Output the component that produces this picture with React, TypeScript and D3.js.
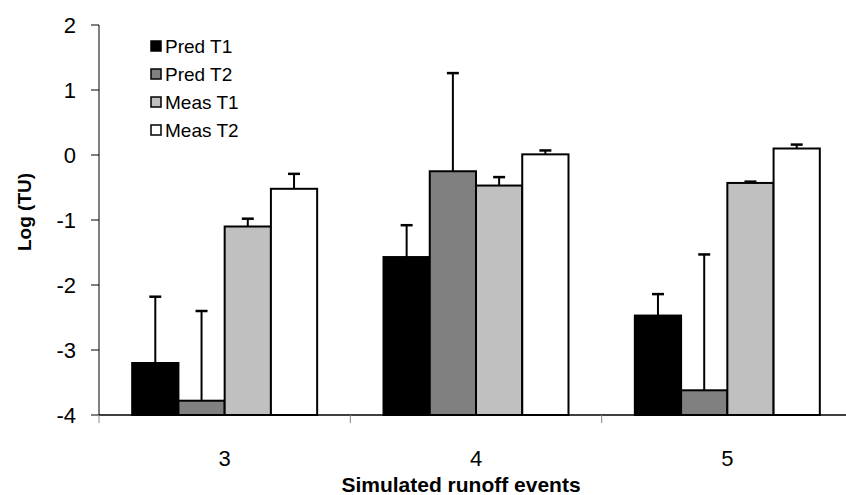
import * as d3 from 'd3'

const categories = ['3', '4', '5']
const seriesNames = ['Pred T1', 'Pred T2', 'Meas T1', 'Meas T2']
const seriesFill = ['#000000', '#808080', '#c0c0c0', '#ffffff']

// mean values per series, one entry per category
const predT1 = [-3.2, -1.57, -2.47]
const predT2 = [-3.78, -0.25, -3.62]
const measT1 = [-1.1, -0.47, -0.43]
const measT2 = [-0.52, 0.01, 0.1]

// top of the (upward only) error bar
const predT1Err = [-2.18, -1.08, -2.14]
const predT2Err = [-2.4, 1.26, -1.53]
const measT1Err = [-0.98, -0.34, -0.41]
const measT2Err = [-0.29, 0.07, 0.16]

const yTicks = [-4, -3, -2, -1, 0, 1, 2]

const values = [predT1, predT2, measT1, measT2]
const errTops = [predT1Err, predT2Err, measT1Err, measT2Err]

const W = 846
const H = 495
const FONT = '"Liberation Sans", Arial, sans-serif'

export default function App() {
  const y = d3.scaleLinear().domain([-4, 2]).range([415, 25])
  const x = d3.scaleBand<string>()
    .domain(categories)
    .range([99, 853])
    .paddingInner(0.264)
    .paddingOuter(0.132)
  const inner = d3.scaleBand<string>()
    .domain(seriesNames)
    .range([0, x.bandwidth()])

  const step = x.step()
  const boundaries = d3.range(categories.length + 1).map(i => 99 + i * step)

  return (
    <svg width={W} height={H} style={{ position: 'absolute', left: 0, top: 0 }} fontFamily={FONT}>
      <rect width={W} height={H} fill="#fff" />

      {/* bars */}
      {seriesNames.map((s, si) => (
        <g key={s}>
          {categories.map((c, ci) => {
            const bx = (x(c) ?? 0) + (inner(s) ?? 0)
            const v = values[si][ci]
            return (
              <rect key={c} x={bx} y={y(v)} width={inner.bandwidth()} height={y(-4) - y(v)}
                fill={seriesFill[si]} stroke="#000" strokeWidth={2} />
            )
          })}
        </g>
      ))}

      {/* error bars */}
      {seriesNames.map((s, si) => (
        <g key={s + '-err'} stroke="#000" strokeWidth={2}>
          {categories.map((c, ci) => {
            const cx = (x(c) ?? 0) + (inner(s) ?? 0) + inner.bandwidth() / 2
            const top = y(errTops[si][ci])
            return (
              <g key={c}>
                <line x1={cx} x2={cx} y1={y(values[si][ci])} y2={top} />
                <line x1={cx - 6} x2={cx + 6} y1={top} y2={top} strokeWidth={2.5} />
              </g>
            )
          })}
        </g>
      ))}

      {/* y axis */}
      <line x1={99} x2={99} y1={y(2)} y2={y(-4)} stroke="#000" strokeWidth={1} />
      {yTicks.map(t => (
        <g key={t}>
          <line x1={91} x2={99} y1={y(t)} y2={y(t)} stroke="#000" />
          <text x={76} y={y(t)} dy="0.36em" textAnchor="end" fontSize={22}>{t}</text>
        </g>
      ))}

      {/* x axis */}
      <line x1={99} x2={W} y1={y(-4)} y2={y(-4)} stroke="#000" strokeWidth={1.5} />
      {boundaries.map((b, i) => (
        <line key={i} x1={b} x2={b} y1={y(-4)} y2={y(-4) + 8} stroke="#888" />
      ))}
      {categories.map(c => (
        <text key={c} x={(x(c) ?? 0) + x.bandwidth() / 2} y={466} textAnchor="middle" fontSize={22}>{c}</text>
      ))}

      <text x={461} y={492} textAnchor="middle" fontSize={21} fontWeight="bold">Simulated runoff events</text>
      <text transform="translate(31,212) rotate(-90)" textAnchor="middle" fontSize={19} fontWeight="bold">Log (TU)</text>

      {/* legend */}
      {seriesNames.map((s, i) => {
        const cy = 46 + i * 28
        return (
          <g key={s}>
            <rect x={151} y={cy - 5} width={10} height={10} fill={seriesFill[i]} stroke="#000" strokeWidth={1.5} />
            <text x={165} y={cy} dy="0.36em" fontSize={19}>{s}</text>
          </g>
        )
      })}
    </svg>
  )
}
